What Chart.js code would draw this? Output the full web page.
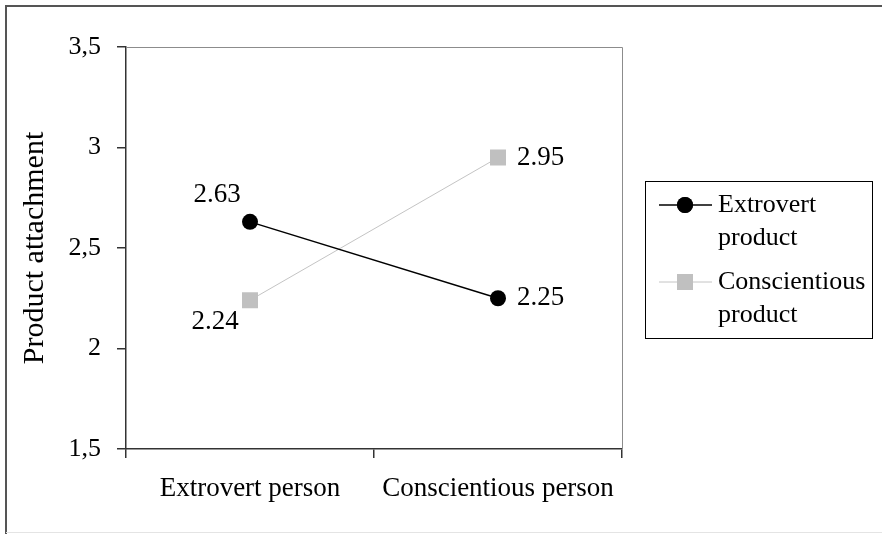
<!DOCTYPE html>
<html>
<head>
<meta charset="utf-8">
<script src="https://cdn.jsdelivr.net/npm/chart.js@4.4.1/dist/chart.umd.min.js"></script>
<style>
  html, body { margin: 0; padding: 0; background: #fff; }
  #wrap { width: 882px; height: 534px; }
</style>
</head>
<body>
<div id="wrap"><canvas id="chart" width="882" height="534"></canvas></div>
<script>
const categories = ['Extrovert person', 'Conscientious person'];
const seriesNames = ['Extrovert product', 'Conscientious product'];
const extrovertProduct = [2.63, 2.25];
const conscientiousProduct = [2.24, 2.95];
const yTicks = [1.5, 2, 2.5, 3, 3.5];

const SERIF = "'Liberation Serif', 'Times New Roman', serif";

// where each value label sits relative to its point: [dx, dy, align]
const labelPlacement = [
  [[-33, -27, 'center'], [19, 0, 'left']],
  [[-35, 22, 'center'], [19, 0, 'left']]
];

const frame = {
  id: 'frame',
  beforeDraw(chart) {
    const ctx = chart.ctx;
    ctx.save();
    ctx.fillStyle = '#fff';
    ctx.fillRect(0, 0, chart.width, chart.height);
    ctx.strokeStyle = '#555';
    ctx.lineWidth = 2;
    ctx.beginPath();
    ctx.moveTo(6, chart.height);
    ctx.lineTo(6, 6);
    ctx.lineTo(chart.width, 6);
    ctx.stroke();
    ctx.strokeStyle = '#e4e4e4';
    ctx.lineWidth = 1;
    ctx.beginPath();
    ctx.moveTo(6, chart.height - 1.5);
    ctx.lineTo(chart.width, chart.height - 1.5);
    ctx.stroke();
    ctx.restore();
  },
  beforeDatasetsDraw(chart) {
    const { ctx, chartArea: a } = chart;
    ctx.save();
    ctx.strokeStyle = '#8c8c8c';
    ctx.lineWidth = 1;
    ctx.beginPath();
    ctx.moveTo(a.left, a.top + 0.5);
    ctx.lineTo(a.right + 0.5, a.top + 0.5);
    ctx.lineTo(a.right + 0.5, a.bottom);
    ctx.stroke();
    ctx.restore();
  }
};

const valueLabels = {
  id: 'valueLabels',
  afterDatasetsDraw(chart) {
    const ctx = chart.ctx;
    ctx.save();
    ctx.font = '27px ' + SERIF;
    ctx.fillStyle = '#000';
    ctx.textBaseline = 'middle';
    chart.data.datasets.forEach((ds, i) => {
      chart.getDatasetMeta(i).data.forEach((pt, j) => {
        const [dx, dy, align] = labelPlacement[i][j];
        ctx.textAlign = align;
        ctx.fillText(ds.data[j].toFixed(2), pt.x + dx, pt.y + dy);
      });
    });
    ctx.restore();
  }
};

const boxLegend = {
  id: 'boxLegend',
  afterDraw(chart) {
    const ctx = chart.ctx;
    const box = { x: 645, y: 181, w: 227, h: 157 };
    ctx.save();
    ctx.strokeStyle = '#000';
    ctx.lineWidth = 1;
    ctx.strokeRect(box.x + 0.5, box.y + 0.5, box.w, box.h);
    ctx.font = '26px ' + SERIF;
    ctx.fillStyle = '#000';
    ctx.textBaseline = 'middle';
    ctx.textAlign = 'left';
    chart.data.datasets.forEach((ds, i) => {
      const y = 205 + i * 77;
      ctx.strokeStyle = ds.borderColor;
      ctx.lineWidth = ds.borderWidth;
      ctx.beginPath();
      ctx.moveTo(659, y);
      ctx.lineTo(712, y);
      ctx.stroke();
      Chart.helpers.drawPoint(ctx, {
        pointStyle: ds.pointStyle,
        radius: ds.pointRadius,
        borderWidth: 0,
        rotation: 0
      }, 685, y);
      ctx.fillStyle = ds.pointBackgroundColor;
      ctx.fill();
      ctx.fillStyle = '#000';
      ds.label.split(' ').forEach((word, k) => {
        ctx.fillText(word, 718, y + k * 33);
      });
    });
    ctx.restore();
  }
};

new Chart(document.getElementById('chart'), {
  type: 'line',
  data: {
    labels: categories,
    datasets: [
      {
        label: seriesNames[0],
        data: extrovertProduct,
        borderColor: '#000',
        borderWidth: 1.5,
        pointStyle: 'circle',
        pointRadius: 8,
        pointBackgroundColor: '#000',
        pointBorderColor: '#000',
        pointBorderWidth: 0
      },
      {
        label: seriesNames[1],
        data: conscientiousProduct,
        borderColor: '#c4c4c4',
        borderWidth: 1,
        pointStyle: 'rect',
        pointRadius: 11.3,
        pointBackgroundColor: '#c0c0c0',
        pointBorderColor: '#c0c0c0',
        pointBorderWidth: 0
      }
    ]
  },
  options: {
    responsive: false,
    animation: false,
    layout: { padding: { top: 47, right: 260, bottom: 0, left: 0 } },
    plugins: {
      legend: { display: false },
      tooltip: { enabled: false }
    },
    scales: {
      x: {
        offset: true,
        grid: { offset: true, drawOnChartArea: false, tickLength: 9, color: '#333', lineWidth: 1.5 },
        border: { color: '#333', width: 1.5 },
        ticks: { padding: 15, color: '#000', font: { family: SERIF, size: 27 }, maxRotation: 0, autoSkip: false },
        afterFit(scale) { scale.height = 85; }
      },
      y: {
        min: 1.5,
        max: 3.5,
        afterBuildTicks(scale) { scale.ticks = yTicks.map(v => ({ value: v })); },
        grid: { drawOnChartArea: false, tickLength: 9, color: '#333', lineWidth: 1.5 },
        border: { color: '#333', width: 1.5 },
        ticks: {
          padding: 16,
          color: '#000',
          font: { family: SERIF, size: 26 },
          callback: v => String(v).replace('.', ',')
        },
        title: {
          display: true,
          text: 'Product attachment',
          color: '#000',
          font: { family: SERIF, size: 30 },
          padding: { top: 17, bottom: 0 }
        },
        afterFit(scale) { scale.width = 126; }
      }
    }
  },
  plugins: [frame, valueLabels, boxLegend]
});
</script>
</body>
</html>
